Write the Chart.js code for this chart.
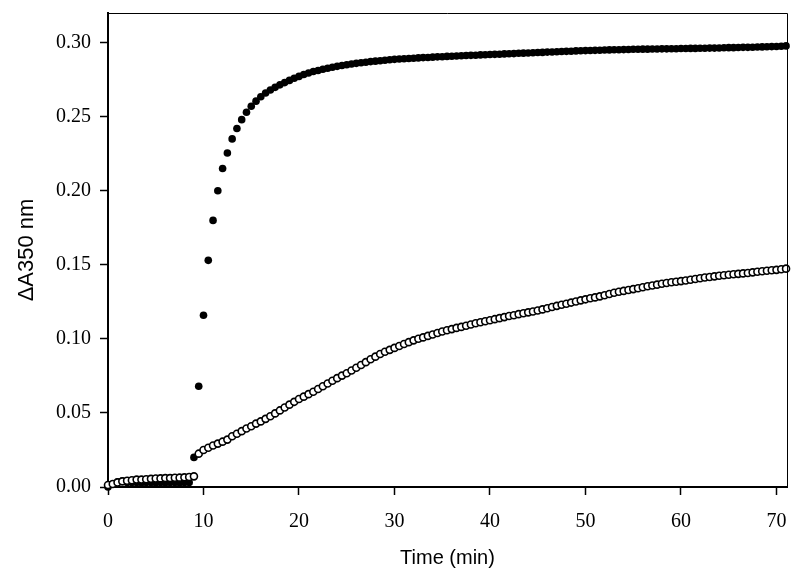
<!DOCTYPE html>
<html>
<head>
<meta charset="utf-8">
<script src="https://cdn.jsdelivr.net/npm/chart.js@4.4.1/dist/chart.umd.min.js"></script>
<style>
  html, body { margin: 0; padding: 0; background: #fff; }
</style>
</head>
<body>
<canvas id="turbidityChart" width="800" height="580"></canvas>
<script>
// readings every 0.5 min, starting at t = 0
const sampleStep = 0.5;

// filled circles
const absFilled = [
  0.000, 0.002, 0.0035, 0.004, 0.003, 0.003, 0.003, 0.0028, 0.003, 0.003,
  0.0028, 0.003, 0.0028, 0.003, 0.003, 0.0028, 0.003, 0.003,
  0.020, 0.068, 0.116, 0.153, 0.180, 0.200, 0.215, 0.2255, 0.235, 0.242,
  0.248, 0.253, 0.257, 0.2605, 0.2635, 0.266, 0.268, 0.2698, 0.2715, 0.273,
  0.2745, 0.276, 0.2772, 0.2785, 0.2795, 0.2805, 0.2812, 0.282, 0.2827, 0.2834,
  0.284, 0.2846, 0.2851, 0.2856, 0.286, 0.2864, 0.2868, 0.2872, 0.2875, 0.2878,
  0.2881, 0.2884, 0.2887,
  0.2889, 0.2891, 0.2893, 0.2895, 0.2897, 0.2899, 0.29, 0.2902, 0.2904, 0.2905,
  0.2907, 0.2908, 0.291, 0.2911, 0.2913, 0.2914, 0.2915, 0.2917, 0.2918, 0.292,
  0.2921, 0.2922, 0.2924, 0.2925, 0.2926, 0.2928, 0.2929, 0.293, 0.2932, 0.2933,
  0.2934, 0.2936, 0.2937, 0.2938, 0.294, 0.2941, 0.2942, 0.2944, 0.2945, 0.2946,
  0.2947, 0.2948, 0.2949, 0.295, 0.2951, 0.2952, 0.2952, 0.2953, 0.2954, 0.2955,
  0.2955, 0.2956, 0.2956, 0.2957, 0.2957, 0.2958, 0.2958, 0.2959, 0.2959, 0.296,
  0.296, 0.2961, 0.2961, 0.2962, 0.2962, 0.2963, 0.2963, 0.2964, 0.2965, 0.2966,
  0.2966, 0.2967, 0.2968, 0.2968, 0.2969, 0.297, 0.2971, 0.2972, 0.2973, 0.2974,
  0.2976, 0.2978
];

// open circles
const absOpen = [
  0.0013, 0.002, 0.003, 0.0038, 0.0042, 0.0046, 0.005, 0.005, 0.0052, 0.0055,
  0.0057, 0.0058, 0.006, 0.006, 0.0062, 0.0063, 0.0065, 0.0068, 0.0072,
  0.0225, 0.025, 0.0265, 0.028, 0.0293, 0.0306, 0.032, 0.0343, 0.036, 0.0377,
  0.0395, 0.041, 0.0428, 0.0443, 0.046, 0.0478, 0.0497, 0.0517, 0.0537, 0.0556,
  0.0575, 0.0594, 0.061, 0.0627, 0.0643, 0.0662, 0.068, 0.0699, 0.0717, 0.0735,
  0.0752, 0.0768, 0.0786, 0.0805, 0.0824, 0.0843, 0.0862, 0.088, 0.0898, 0.0913,
  0.0926, 0.0939, 0.0952, 0.0965, 0.0978, 0.099, 0.1001, 0.101, 0.102, 0.103,
  0.104, 0.105, 0.1058, 0.1066, 0.1074, 0.1081, 0.1089, 0.1097, 0.1105, 0.1112,
  0.1119, 0.1126, 0.1133, 0.114, 0.1147, 0.1154, 0.116, 0.1167, 0.1173, 0.1179,
  0.1185, 0.1192, 0.1199, 0.1207, 0.1215, 0.1223, 0.123, 0.1237, 0.1245, 0.1252,
  0.126, 0.1267, 0.1274, 0.128, 0.1287, 0.1295, 0.1303, 0.1311, 0.1318, 0.1324,
  0.133, 0.1336, 0.1342, 0.1349, 0.1355, 0.136, 0.1366, 0.1372, 0.1377, 0.1382,
  0.1386, 0.139, 0.1394, 0.1399, 0.1404, 0.1409, 0.1414, 0.1418, 0.1422, 0.1426,
  0.143, 0.1433, 0.1436, 0.1439, 0.1442, 0.1445, 0.1449, 0.1453, 0.1457, 0.146,
  0.1463, 0.1466, 0.147, 0.1474
];

const xTicks = [0, 10, 20, 30, 40, 50, 60, 70];
const yTicks = [0.00, 0.05, 0.10, 0.15, 0.20, 0.25, 0.30];

const toPoints = vals => vals.map((v, i) => ({x: i * sampleStep, y: v}));

// box round the plot area (top and right edges are thinner)
const frame = {
  id: 'frame',
  afterDraw(chart) {
    const {ctx, chartArea: a} = chart;
    ctx.save();
    ctx.strokeStyle = '#000';
    ctx.lineWidth = 1;
    ctx.beginPath();
    ctx.moveTo(a.left, a.top + 0.5);
    ctx.lineTo(a.right + 0.5, a.top + 0.5);
    ctx.lineTo(a.right + 0.5, a.bottom);
    ctx.stroke();
    ctx.restore();
  }
};

const tickFont = {family: "'Liberation Serif', 'Times New Roman', serif", size: 20};
const titleFont = {family: "'Liberation Sans', Arial, sans-serif", size: 20};

new Chart(document.getElementById('turbidityChart'), {
  type: 'scatter',
  data: {
    datasets: [
      {
        label: 'open',
        data: toPoints(absOpen),
        pointRadius: 3.5,
        pointBorderWidth: 1.6,
        pointBackgroundColor: '#fff',
        pointBorderColor: '#000',
        order: 1,
        clip: false
      },
      {
        label: 'filled',
        data: toPoints(absFilled),
        pointRadius: 3.8,
        pointBorderWidth: 0,
        pointBackgroundColor: '#000',
        pointBorderColor: '#000',
        order: 2,
        clip: false
      }
    ]
  },
  plugins: [frame],
  options: {
    responsive: false,
    animation: false,
    devicePixelRatio: 1,
    layout: {padding: {top: 13, right: 13, left: 0, bottom: 0}},
    plugins: {
      legend: {display: false},
      tooltip: {enabled: false}
    },
    scales: {
      x: {
        type: 'linear',
        min: 0,
        max: 71.1,
        afterFit: s => { s.height = 93; s.paddingLeft = 0; s.paddingRight = 0; },
        afterBuildTicks: s => { s.ticks = xTicks.map(v => ({value: v})); },
        ticks: {
          font: tickFont,
          color: '#000',
          padding: 15,
          maxRotation: 0,
          callback: v => String(v)
        },
        grid: {drawOnChartArea: false, tickLength: 8, tickColor: '#000', tickWidth: 1.5},
        border: {color: '#000', width: 2},
        title: {
          display: true,
          text: 'Time (min)',
          font: titleFont,
          color: '#000',
          padding: {top: 0, bottom: 10}
        }
      },
      y: {
        type: 'linear',
        min: 0,
        max: 0.32,
        afterFit: s => { s.width = 108; s.paddingTop = 0; s.paddingBottom = 0; },
        afterBuildTicks: s => { s.ticks = yTicks.map(v => ({value: v})); },
        ticks: {
          font: tickFont,
          color: '#000',
          padding: 9,
          callback: v => v.toFixed(2)
        },
        grid: {drawOnChartArea: false, tickLength: 8, tickColor: '#000', tickWidth: 1.5},
        border: {color: '#000', width: 2},
        title: {
          display: true,
          text: 'ΔA350 nm',
          font: {family: "'Liberation Sans', Arial, sans-serif", size: 22},
          color: '#000',
          padding: {top: 14, bottom: 0}
        }
      }
    }
  }
});
</script>
</body>
</html>
